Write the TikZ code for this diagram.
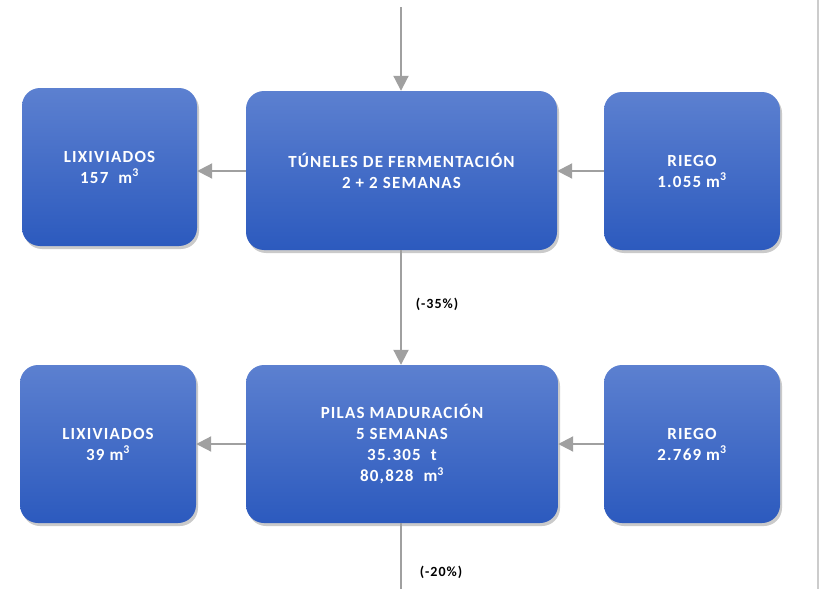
\documentclass[tikz,border=0pt]{standalone}
\usepackage{fontspec}
\setmainfont{Carlito}[BoldFeatures={LetterSpace=7}]
\usetikzlibrary{shadows,arrows.meta}
\definecolor{boxtop}{RGB}{92,128,208}
\definecolor{boxbot}{RGB}{44,90,190}
\definecolor{arrgray}{RGB}{160,160,160}
\tikzset{
  bluebox/.style={rounded corners=18pt, top color=boxtop, bottom color=boxbot, draw=none,
    drop shadow={shadow xshift=2pt, shadow yshift=-3pt, opacity=0.35, fill=black!60},
    text=white, font=\fontsize{17}{21}\selectfont\bfseries, align=center, inner sep=0pt},
  flow/.style={draw=arrgray, line width=2pt, -{Triangle[width=15pt,length=15pt]}},
  plainflow/.style={draw=arrgray, line width=2pt},
  pct/.style={font=\fontsize{14}{16}\selectfont\bfseries, text=black}
}
\begin{document}
\begin{tikzpicture}[x=1pt,y=-1pt]
\useasboundingbox (0,0) rectangle (823,589);
\draw[line width=1.5pt, draw=black!20] (818,0) -- (818,589);
\node[bluebox, minimum width=175pt, minimum height=158pt] (l1) at (109.5,167) {LIXIVIADOS\\157\ \ m\textsuperscript{3}};
\node[bluebox, minimum width=311pt, minimum height=159pt] (t) at (401.5,170.5) {TÚNELES DE FERMENTACIÓN\\2 + 2 SEMANAS};
\node[bluebox, minimum width=176pt, minimum height=158pt] (r1) at (692,171) {RIEGO\\1.055 m\textsuperscript{3}};
\node[bluebox, minimum width=176pt, minimum height=158pt] (l2) at (108,444) {LIXIVIADOS\\39 m\textsuperscript{3}};
\node[bluebox, minimum width=312pt, minimum height=158pt] (p) at (402,444) {PILAS MADURACIÓN\\5 SEMANAS\\35.305\ \ t\\80,828\ \ m\textsuperscript{3}};
\node[bluebox, minimum width=176pt, minimum height=158pt] (r2) at (692,444) {RIEGO\\2.769 m\textsuperscript{3}};
\coordinate (in) at (401,7);
\coordinate (out) at (401,589);
\draw[flow] (in) -- (t.north -| in);
\draw[flow] (t.south -| in) -- (p.north -| in);
\draw[plainflow] (p.south -| in) -- (out);
\draw[flow] (t.west |- 0,171) -- (l1.east |- 0,171);
\draw[flow] (r1.west |- 0,171) -- (t.east |- 0,171);
\draw[flow] (p.west |- 0,444) -- (l2.east |- 0,444);
\draw[flow] (r2.west |- 0,444) -- (p.east |- 0,444);
\node[pct] (p35) at (437,304) {(-35\%)};
\node[pct] (p20) at (441,572) {(-20\%)};
\end{tikzpicture}
\end{document}
